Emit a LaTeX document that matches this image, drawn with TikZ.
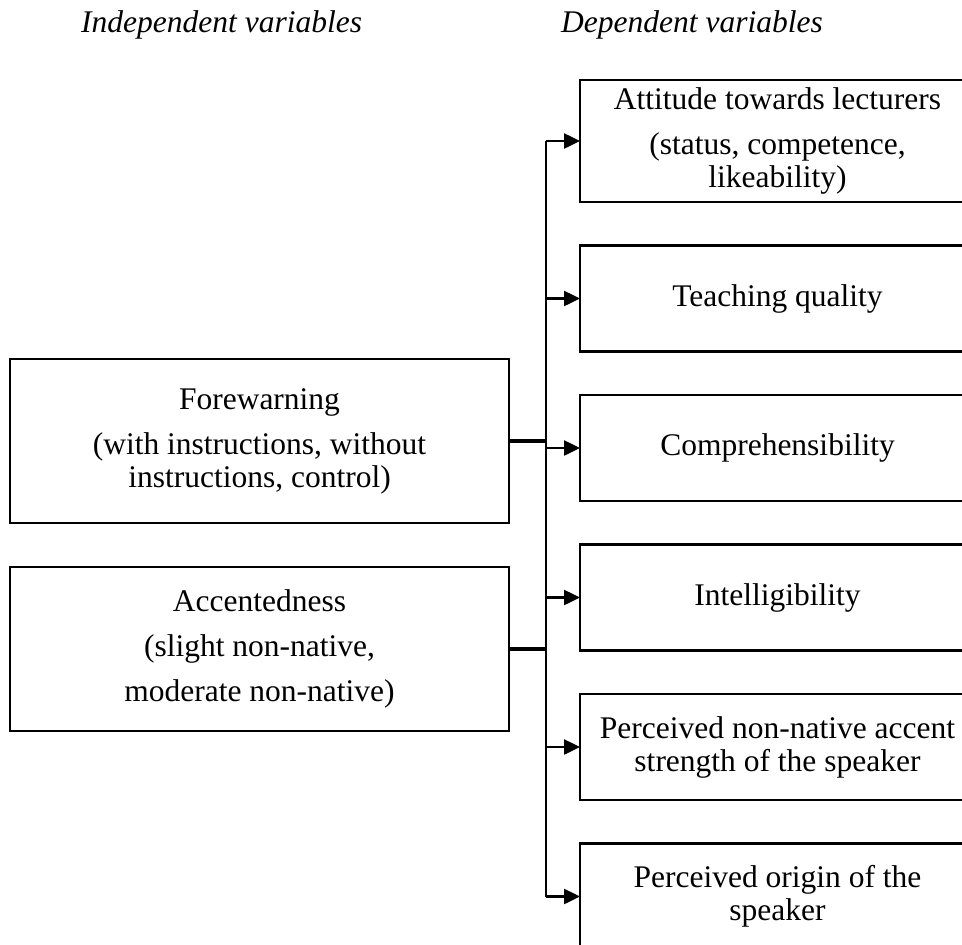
\documentclass[tikz,border=0pt]{standalone}
\usepackage{fontspec}
\setmainfont{Liberation Serif}
\usetikzlibrary{arrows.meta, positioning}

\begin{document}
\begin{tikzpicture}[
  x=1pt, y=-1pt,
  node distance=43.5pt,
  var/.style={draw, line width=2.8pt, align=center, inner sep=0pt, outer sep=0pt,
              font=\fontsize{31.5}{33}\selectfont},
  indep/.style={var, minimum width=499pt, minimum height=164pt},
  dep/.style={var, minimum width=395pt, minimum height=106pt},
  head/.style={anchor=base west, inner sep=0pt, font=\fontsize{31.5}{33}\selectfont\itshape},
  arr/.style={-{Triangle[length=16pt, width=15pt]}, line width=2.5pt},
  feed/.style={line width=3.5pt}
]
  \useasboundingbox (0,0) rectangle (962,945);
  \clip (0,0) rectangle (962,945);

  \node[head] (indephead) at (81,32) {Independent variables};
  \node[head] (dephead) at (561,32) {Dependent variables};

  \node[dep, minimum height=122pt] (att) at (777.5,141) {Attitude towards lecturers\\[12pt](status, competence,\\likeability)};
  \node[dep, below=of att] (teach) {Teaching quality};
  \node[dep, below=of teach] (compr) {Comprehensibility};
  \node[dep, below=of compr] (intel) {Intelligibility};
  \node[dep, below=of intel] (accst) {Perceived non-native accent\\strength of the speaker};
  \node[dep, below=of accst] (orig) {Perceived origin of the\\speaker};

  \node[indep] (fore) at (259.5,441) {Forewarning\\[12pt](with instructions, without\\instructions, control)};
  \node[indep, below=44pt of fore] (accn) {Accentedness\\[12pt](slight non-native,\\[12pt]moderate non-native)};

  \coordinate (bus) at (546,0);
  \draw[feed] (fore.east) -- (fore.east -| bus);
  \draw[feed] (accn.east) -- (accn.east -| bus);
  \draw[line width=2.5pt] (bus |- att.west) -- (bus |- orig.west);
  \foreach \n in {att,teach,compr,intel,accst,orig}
    \draw[arr] (bus |- \n.west) -- (\n.west);
\end{tikzpicture}
\end{document}
